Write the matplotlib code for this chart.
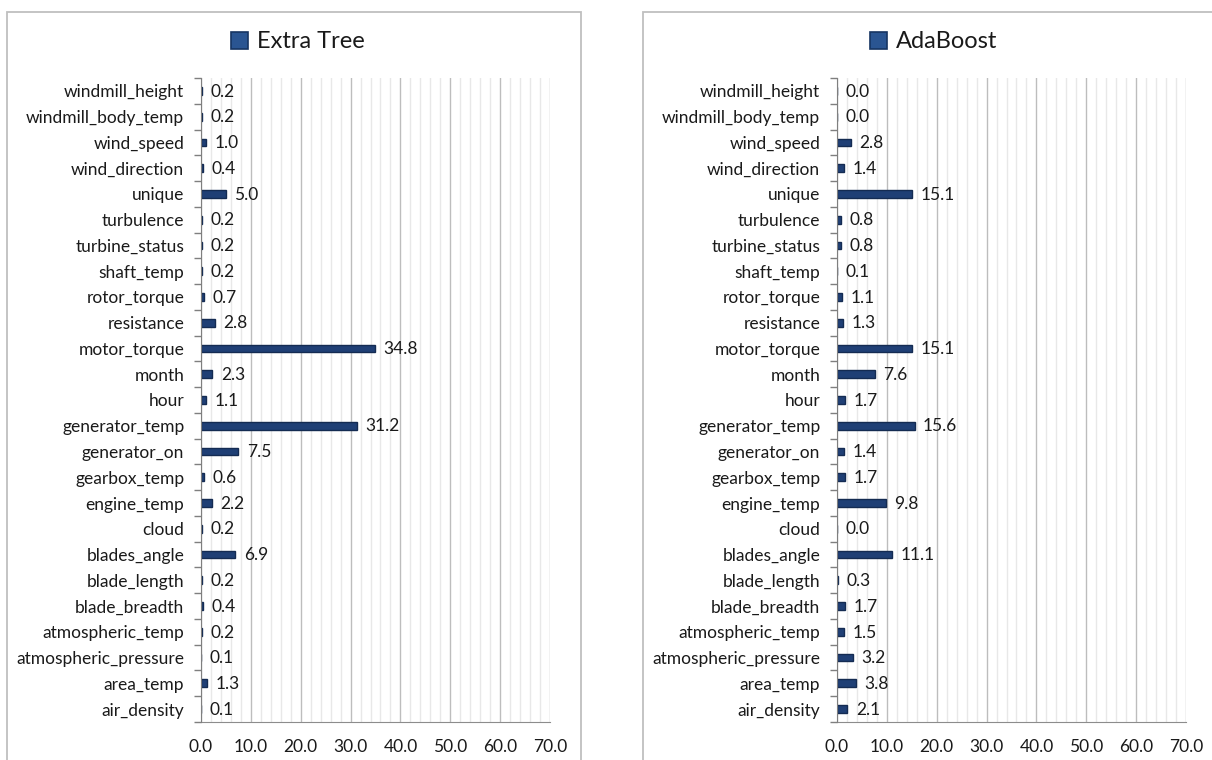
import matplotlib
matplotlib.use("Agg")
import matplotlib.pyplot as plt
from matplotlib.patches import Rectangle, Patch
from matplotlib.ticker import MultipleLocator, FixedLocator

plt.rcParams['font.family'] = ['Lato', 'DejaVu Sans']

# Features listed bottom-to-top
features = ["air_density", "area_temp", "atmospheric_pressure", "atmospheric_temp",
            "blade_breadth", "blade_length", "blades_angle", "cloud", "engine_temp",
            "gearbox_temp", "generator_on", "generator_temp", "hour", "month",
            "motor_torque", "resistance", "rotor_torque", "shaft_temp", "turbine_status",
            "turbulence", "unique", "wind_direction", "wind_speed",
            "windmill_body_temp", "windmill_height"]

extra_tree = [0.1, 1.3, 0.1, 0.2, 0.4, 0.2, 6.9, 0.2, 2.2, 0.6, 7.5, 31.2, 1.1, 2.3,
              34.8, 2.8, 0.7, 0.2, 0.2, 0.2, 5.0, 0.4, 1.0, 0.2, 0.2]
adaboost = [2.1, 3.8, 3.2, 1.5, 1.7, 0.3, 11.1, 0.0, 9.8, 1.7, 1.4, 15.6, 1.7, 7.6,
            15.1, 1.3, 1.1, 0.1, 0.8, 0.8, 15.1, 1.4, 2.8, 0.0, 0.0]

x_ticks = [0, 10, 20, 30, 40, 50, 60, 70]

W, H = 1212, 760
fig = plt.figure(figsize=(W / 100, H / 100), dpi=100)

BAR = "#1F3F75"
EDGE = "#142B52"
TXT = "#1A1A1A"

# panel frames (pixel coordinates converted to figure fractions)
def frame(x0, y0, x1, y1):
    fig.patches.append(Rectangle((x0 / W, 1 - y1 / H), (x1 - x0) / W, (y1 - y0) / H,
                                 transform=fig.transFigure, fill=False,
                                 edgecolor="#BFBFBF", linewidth=1.3, zorder=0))

frame(7, 12, 581, 800)
frame(643, 12, 1260, 800)


def panel(left_px, values, title, title_x_px):
    ax = fig.add_axes([left_px / W, 1 - 722 / H, 349 / W, 644 / H])
    y = list(range(len(features)))
    ax.barh(y, values, height=0.3, color=BAR, edgecolor=EDGE, linewidth=1.0, zorder=3)
    for yi, v in zip(y, values):
        ax.annotate(f"{v:.1f}", (v, yi), xytext=(6, -0.5), textcoords="offset points",
                    va="center", ha="left", fontsize=12.5, color=TXT, zorder=4)
    ax.set_xlim(0, 70)
    ax.set_ylim(-0.5, len(features) - 0.5)
    ax.xaxis.set_major_locator(FixedLocator(x_ticks))
    ax.xaxis.set_minor_locator(MultipleLocator(2))
    ax.set_xticklabels([f"{t:.1f}" for t in x_ticks])
    ax.grid(axis="x", which="major", color="#BDBDBD", linewidth=1.0, zorder=1)
    ax.grid(axis="x", which="minor", color="#E8E8E8", linewidth=1.0, zorder=1)
    ax.tick_params(axis="x", which="both", length=0, pad=12, labelsize=12.5, labelcolor=TXT)
    ax.set_yticks(y)
    ax.set_yticklabels(features)
    ax.yaxis.set_minor_locator(FixedLocator([i - 0.5 for i in range(len(features) + 1)]))
    ax.tick_params(axis="y", which="major", length=0, pad=12, labelsize=12.5, labelcolor=TXT)
    ax.tick_params(axis="y", which="minor", length=5, width=1.0, color="#7F7F7F", direction="out")
    for s in ("top", "right"):
        ax.spines[s].set_visible(False)
    ax.spines["left"].set_color("#7F7F7F")
    ax.spines["bottom"].set_color("#8C8C8C")
    ax.spines["left"].set_zorder(5)
    handle = Patch(facecolor="#2A5592", edgecolor="#163562", linewidth=1.2)
    fig.legend([handle], [title], loc="center", bbox_to_anchor=(title_x_px / W, 1 - 42 / H),
               frameon=False, fontsize=17, handlelength=0.7, handleheight=0.7,
               handletextpad=0.4, labelcolor=TXT)
    return ax


panel(201, extra_tree, "Extra Tree", 298)
panel(837, adaboost, "AdaBoost", 934)

fig.savefig("out.png", dpi=100)
